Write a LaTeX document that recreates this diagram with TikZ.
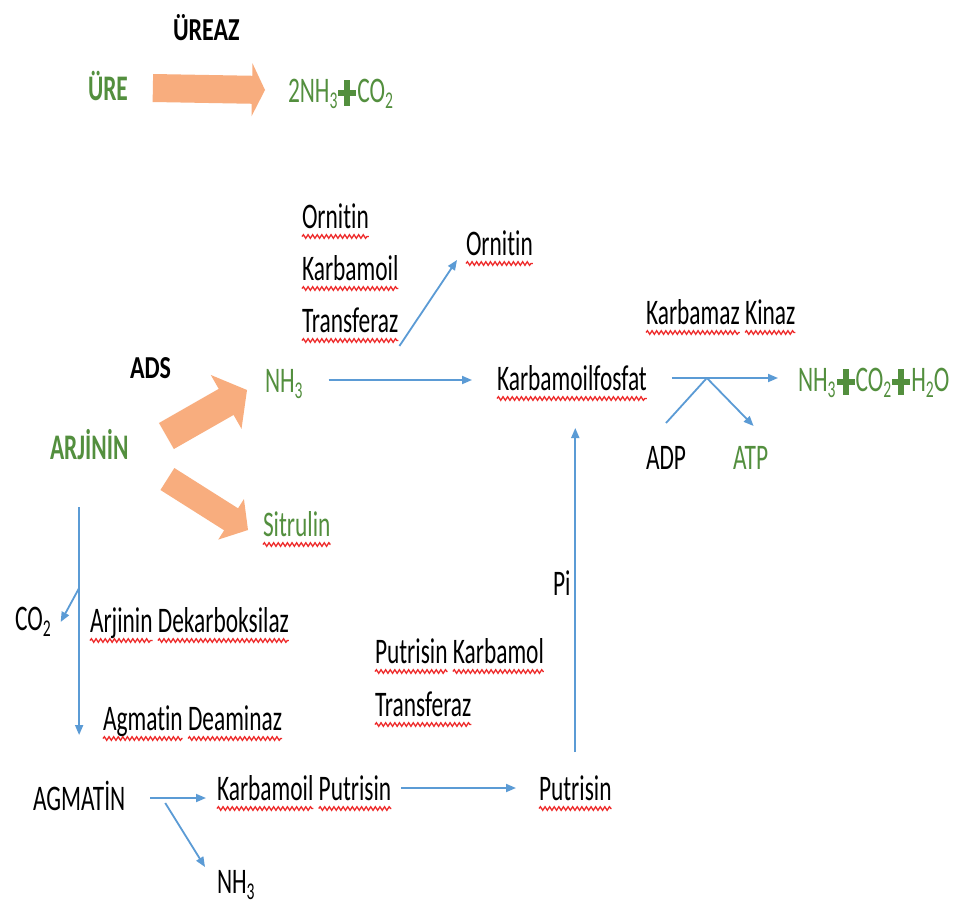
\documentclass[tikz,border=0pt]{standalone}
\usepackage{fontspec}
\setmainfont{Carlito}[FakeStretch=0.65, Ligatures=NoCommon]
\newfontfamily\headfont{Carlito}[FakeStretch=0.75, Ligatures=NoCommon]
\usetikzlibrary{calc,decorations.pathmorphing,arrows.meta}

\definecolor{leaf}{HTML}{538F3E}
\definecolor{peach}{HTML}{F8AD7E}
\definecolor{flowblue}{HTML}{5B9BD5}
\definecolor{squigred}{HTML}{EE2B2B}

% chemical subscript and the heavy plus sign
\newcommand\chemsub[1]{\raisebox{-6pt}{\fontsize{24}{24}\selectfont #1}}
\newcommand\fatplus{\kern1pt\rlap{\rule[6pt]{18pt}{6pt}}\kern6pt\rule[-4pt]{6pt}{26pt}\kern6pt\kern1pt}

% block arrow: tail, tip, shaft half width, head half width, head length
\newcommand\blockarrow[5]{%
  \coordinate (hb) at ($(#2)!#5!(#1)$);
  \fill[peach] ($(#1)!#3!90:(#2)$) -- ($(hb)!#3!90:(#2)$) -- ($(hb)!#4!90:(#2)$)
    -- (#2) -- ($(hb)!#4!-90:(#2)$) -- ($(hb)!#3!-90:(#2)$) -- ($(#1)!#3!-90:(#2)$) -- cycle;}

\tikzset{
  txt/.style={inner sep=0pt, outer sep=0pt, anchor=base west, text height=26pt,
    text depth=2pt, font=\fontsize{36}{40}\selectfont, text=black},
  head/.style={txt, font=\headfont\bfseries\fontsize{32}{36}\selectfont},
  grn/.style={txt, text=leaf},
  gbold/.style={grn, font=\bfseries\fontsize{36}{40}\selectfont},
  squig/.style={draw=squigred, line width=1.3pt, decorate,
    decoration={snake, amplitude=1.8pt, segment length=4.6pt}},
  wavy/.style={append after command={([yshift=-8.5pt]\tikzlastnode.base west)
    edge[squig] ([yshift=-8.5pt]\tikzlastnode.base east)}},
  flowline/.style={draw=flowblue, line width=1.8pt},
  flow/.style={flowline, -{Triangle[length=10pt,width=8pt]}}
}

\begin{document}
\begin{tikzpicture}[x=1pt,y=-1pt]
\fill[white] (0,0) rectangle (960,905);
\useasboundingbox (0,0) rectangle (960,905);

% urease reaction
\node[head] (ureaz) at (173,40) {ÜREAZ};
\node[gbold] (ure) at (88,100) {ÜRE};
\node[grn] (prod1) at (288,102) {2NH\chemsub{3}\fatplus CO\chemsub{2}};
\coordinate (u1) at ([xshift=25pt]ure.east);
\coordinate (u2) at ([xshift=-23pt]prod1.west);
\blockarrow{u1}{u2}{14pt}{26.5pt}{13pt}

% arginine deiminase branch
\node[txt,wavy] (orn1) at (302,228) {Ornitin};
\node[txt,wavy] (okt2) at (302,280) {Karbamoil};
\node[txt,wavy] (okt3) at (302,332) {Transferaz};
\node[txt,wavy] (orn2) at (466,255) {Ornitin};
\node[head] (ads) at (130,378) {ADS};
\node[grn] (nh3a) at (265,392) {NH\chemsub{3}};
\node[txt,wavy] (kk1) at (646,324) {Karbamaz};
\node[txt,wavy] (kk2) at ([xshift=5.3pt]kk1.base east) {Kinaz};
\node[txt,wavy] (kf) at (497,390) {Karbamoilfosfat};
\node[grn] (prod2) at (798,391) {NH\chemsub{3}\fatplus CO\chemsub{2}\fatplus H\chemsub{2}O};
\node[gbold] (arj) at (50,459) {ARJİNİN};
\node[txt] (adp) at (646,469) {ADP};
\node[grn] (atp) at (733,469) {ATP};
\node[grn,wavy] (sit) at (263,536) {Sitrulin};

\coordinate (a1) at ([shift={(38,-11)}]arj.east);
\coordinate (a2) at ([shift={(-18,10)}]nh3a.west);
\blockarrow{a1}{a2}{15pt}{31pt}{24pt}
\coordinate (s1) at ([shift={(39,32)}]arj.east);
\coordinate (s2) at ([shift={(-15,6)}]sit.west);
\blockarrow{s1}{s2}{13pt}{24pt}{20pt}

% decarboxylase branch
\node[txt] (pi) at (553,595) {Pi};
\node[txt] (co2) at (15,630) {CO\chemsub{2}};
\node[txt,wavy] (ad1) at (90,632) {Arjinin};
\node[txt,wavy] (ad2) at ([xshift=5.3pt]ad1.base east) {Dekarboksilaz};
\node[txt,wavy] (pk1) at (375,663) {Putrisin};
\node[txt,wavy] (pk2) at ([xshift=5.3pt]pk1.base east) {Karbamol};
\node[txt,wavy] (pk3) at (375,716) {Transferaz};
\node[txt,wavy] (agd1) at (103,730) {Agmatin};
\node[txt,wavy] (agd2) at ([xshift=5.3pt]agd1.base east) {Deaminaz};
\node[txt] (agm) at (33,810) {AGMATİN};
\node[txt,wavy] (kp1) at (217,800) {Karbamoil};
\node[txt,wavy] (kp2) at ([xshift=5.3pt]kp1.base east) {Putrisin};
\node[txt,wavy] (put) at (539,800) {Putrisin};
\node[txt] (nh3b) at (217,893) {NH\chemsub{3}};

% connectors
\draw[flow, shorten <=26pt, shorten >=25pt] (nh3a.east) -- (nh3a.east -| kf.west);
\draw[flow] ([shift={(1,14)}]okt3.base east) -- ([shift={(-9,5)}]orn2.base west);
\coordinate (j) at ($(kf.east)+(60,0)$);
\draw[flow, shorten <=25pt, shorten >=20pt] (kf.east) -- (kf.east -| prod2.west);
\draw[flowline] ([yshift=20pt]adp.north) -- (j);
\draw[flow] (j) -- ([shift={(3,-17)}]atp.north);
\draw[flow, shorten <=22pt, shorten >=36pt] (put.north) -- (put.north |- kf.south);
\draw[flow, shorten <=46pt, shorten >=49pt] (arj.south -| agm.north) -- (agm.north);
\coordinate (cb) at ($(arj.south -| agm.north)+(0,127)$);
\draw[flow] (cb) -- ([shift={(10,-8)}]co2.base east);
\draw[flow, shorten <=25pt, shorten >=11pt] (agm.east) -- (agm.east -| kp1.west);
\draw[flow] ([shift={(40,-7)}]agm.base east) -- ([shift={(-12,-26)}]nh3b.base west);
\draw[flow, shorten <=10pt, shorten >=23pt] (kp2.east) -- (kp2.east -| put.west);
\end{tikzpicture}
\end{document}
